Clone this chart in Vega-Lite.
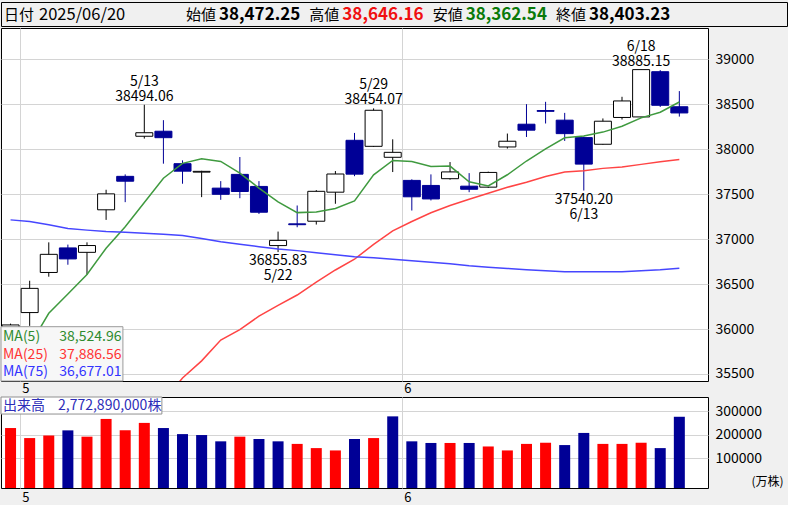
{
  "$schema": "https://vega.github.io/schema/vega-lite/v6.json",
  "background": "#f0f0f0",
  "padding": {"top": 1, "left": 0, "right": 0, "bottom": 0},
  "spacing": 0,
  "config": {"font": "Noto Sans CJK JP", "view": {"stroke": null}},
  "datasets": {
    "header": [
      {"k": "日付", "v": "2025/06/20"},
      {"k": "始値", "v": "38,472.25"},
      {"k": "高値", "v": "38,646.16"},
      {"k": "安値", "v": "38,362.54"},
      {"k": "終値", "v": "38,403.23"}
    ],
    "malegend": [
      {"n": "MA(5)", "v": "38,524.96"},
      {"n": "MA(25)", "v": "37,886.56"},
      {"n": "MA(75)", "v": "36,677.01"}
    ],
    "notes": [
      {"d": "2025-05-13", "p": 38494.06, "t": "5/13\n38494.06", "side": "hi"},
      {"d": "2025-05-29", "p": 38454.07, "t": "5/29\n38454.07", "side": "hi"},
      {"d": "2025-06-18", "p": 38885.15, "t": "6/18\n38885.15", "side": "hi"},
      {"d": "2025-05-22", "p": 36855.83, "t": "36855.83\n5/22", "side": "lo"},
      {"d": "2025-06-13", "p": 37540.20, "t": "37540.20\n6/13", "side": "lo"}
    ],
    "ohlc": [
      {"d":"2025-04-30","o":35900,"h":36060,"l":35780,"c":36045.38,"vol":229000,"chg":"up","ma5":35499.8,"ma25":null,"ma75":37214},
      {"d":"2025-05-01","o":36183,"h":36537,"l":36035,"c":36452.30,"vol":186000,"chg":"up","ma5":35816.5,"ma25":null,"ma75":37195},
      {"d":"2025-05-02","o":36629,"h":36964,"l":36582,"c":36830.69,"vol":197000,"chg":"up","ma5":36174.8,"ma25":null,"ma75":37160},
      {"d":"2025-05-07","o":36902,"h":36939,"l":36715,"c":36779.66,"vol":219000,"chg":"down","ma5":36389.6,"ma25":null,"ma75":37117},
      {"d":"2025-05-08","o":36853,"h":36964,"l":36604,"c":36928.63,"vol":192000,"chg":"up","ma5":36607.3,"ma25":null,"ma75":37100},
      {"d":"2025-05-09","o":37326,"h":37549,"l":37214,"c":37503.33,"vol":268000,"chg":"up","ma5":36898.9,"ma25":null,"ma75":37085},
      {"d":"2025-05-12","o":37698,"h":37720,"l":37411,"c":37644.26,"vol":219000,"chg":"up","ma5":37137.3,"ma25":null,"ma75":37075},
      {"d":"2025-05-13","o":38144,"h":38494.06,"l":38118,"c":38183.26,"vol":251000,"chg":"up","ma5":37407.8,"ma25":null,"ma75":37065},
      {"d":"2025-05-14","o":38200,"h":38323,"l":37839,"c":38128.13,"vol":229000,"chg":"down","ma5":37677.5,"ma25":35191.4,"ma75":37055},
      {"d":"2025-05-15","o":37839,"h":37876,"l":37616,"c":37755.51,"vol":203000,"chg":"down","ma5":37842.9,"ma25":35456.2,"ma75":37039},
      {"d":"2025-05-16","o":37745,"h":37760,"l":37467,"c":37753.72,"vol":199000,"chg":"down","ma5":37893.0,"ma25":35645.8,"ma75":37006},
      {"d":"2025-05-19","o":37567,"h":37645,"l":37437,"c":37498.63,"vol":172000,"chg":"down","ma5":37863.9,"ma25":35877.2,"ma75":36972},
      {"d":"2025-05-20","o":37720,"h":37913,"l":37455,"c":37529.49,"vol":192000,"chg":"up","ma5":37733.1,"ma25":35994.0,"ma75":36944},
      {"d":"2025-05-21","o":37586,"h":37645,"l":37280,"c":37298.98,"vol":182000,"chg":"down","ma5":37567.3,"ma25":36142.6,"ma75":36916},
      {"d":"2025-05-22","o":36928,"h":37084,"l":36855.83,"c":36985.87,"vol":172000,"chg":"down","ma5":37413.3,"ma25":36262.7,"ma75":36891},
      {"d":"2025-05-23","o":37170,"h":37374,"l":37132,"c":37160.47,"vol":161000,"chg":"up","ma5":37294.7,"ma25":36378.4,"ma75":36872},
      {"d":"2025-05-26","o":37199,"h":37545,"l":37162,"c":37531.53,"vol":143000,"chg":"up","ma5":37301.3,"ma25":36522.9,"ma75":36849},
      {"d":"2025-05-27","o":37522,"h":37757,"l":37393,"c":37724.11,"vol":133000,"chg":"up","ma5":37340.2,"ma25":36656.7,"ma75":36827},
      {"d":"2025-05-28","o":38099,"h":38181,"l":37700,"c":37722.40,"vol":182000,"chg":"down","ma5":37424.9,"ma25":36776.4,"ma75":36805},
      {"d":"2025-05-29","o":38032,"h":38454.07,"l":38025,"c":38432.98,"vol":186000,"chg":"up","ma5":37714.3,"ma25":36942.5,"ma75":36794},
      {"d":"2025-05-30","o":37910,"h":38110,"l":37746,"c":37965.10,"vol":279000,"chg":"down","ma5":37875.2,"ma25":37092.3,"ma75":36777},
      {"d":"2025-06-02","o":37653,"h":37665,"l":37318,"c":37470.67,"vol":172000,"chg":"down","ma5":37863.1,"ma25":37196.4,"ma75":36760},
      {"d":"2025-06-03","o":37597,"h":37720,"l":37430,"c":37446.81,"vol":165000,"chg":"down","ma5":37807.6,"ma25":37292.7,"ma75":36743},
      {"d":"2025-06-04","o":37672,"h":37857,"l":37661,"c":37747.45,"vol":165000,"chg":"up","ma5":37812.6,"ma25":37374.4,"ma75":36727},
      {"d":"2025-06-05","o":37589,"h":37734,"l":37522,"c":37554.49,"vol":165000,"chg":"down","ma5":37636.9,"ma25":37443.0,"ma75":36704},
      {"d":"2025-06-06","o":37578,"h":37750,"l":37570,"c":37741.61,"vol":150000,"chg":"up","ma5":37592.2,"ma25":37510.8,"ma75":36688},
      {"d":"2025-06-09","o":38025,"h":38174,"l":38007,"c":38088.57,"vol":133000,"chg":"up","ma5":37715.8,"ma25":37576.3,"ma75":36674},
      {"d":"2025-06-10","o":38278,"h":38501,"l":38136,"c":38211.51,"vol":161000,"chg":"up","ma5":37868.7,"ma25":37631.5,"ma75":36660},
      {"d":"2025-06-11","o":38430,"h":38527,"l":38286,"c":38421.19,"vol":166000,"chg":"up","ma5":38003.5,"ma25":37697.1,"ma75":36648},
      {"d":"2025-06-12","o":38323,"h":38404,"l":38092,"c":38173.09,"vol":156000,"chg":"down","ma5":38127.2,"ma25":37746.9,"ma75":36637},
      {"d":"2025-06-13","o":38129,"h":38140,"l":37540.20,"c":37834.25,"vol":208000,"chg":"down","ma5":38145.7,"ma25":37760.2,"ma75":36637},
      {"d":"2025-06-16","o":38055,"h":38342,"l":38050,"c":38311.33,"vol":161000,"chg":"up","ma5":38190.3,"ma25":37786.8,"ma75":36637},
      {"d":"2025-06-17","o":38353,"h":38583,"l":38330,"c":38536.74,"vol":161000,"chg":"up","ma5":38255.3,"ma25":37801.0,"ma75":36637},
      {"d":"2025-06-18","o":38359,"h":38885.15,"l":38350,"c":38885.15,"vol":166000,"chg":"up","ma5":38348.1,"ma25":37831.3,"ma75":36648},
      {"d":"2025-06-19","o":38862,"h":38880,"l":38470,"c":38488.34,"vol":143000,"chg":"down","ma5":38411.2,"ma25":37860.6,"ma75":36660},
      {"d":"2025-06-20","o":38472.25,"h":38646.16,"l":38362.54,"c":38403.23,"vol":277289,"chg":"down","ma5":38524.96,"ma25":37886.56,"ma75":36677.01}
    ]
  },
  "vconcat": [
    {
      "width": 786,
      "height": 24,
      "view": {"stroke": "#000000", "strokeWidth": 1, "fill": null},
      "data": {"name": "header"},
      "resolve": {"scale": {"x": "independent", "color": "independent"}},
      "layer": [
        {
          "transform": [{"filter": "datum.k === '日付'"}],
          "mark": {"type": "text", "align": "left", "baseline": "middle", "fontSize": 15, "color": "#000000", "dy": 1},
          "encoding": {
            "x": {"field": "k", "type": "nominal", "scale": {"type": "point", "domain": ["日付"], "range": [3, 3], "padding": 0}, "axis": null},
            "text": {"field": "k"}
          }
        },
        {
          "transform": [{"filter": "datum.k === '日付'"}],
          "mark": {"type": "text", "align": "left", "baseline": "middle", "fontSize": 16.5, "color": "#000000", "dx": 35, "dy": 1},
          "encoding": {
            "x": {"field": "k", "type": "nominal", "scale": {"type": "point", "domain": ["日付"], "range": [3, 3], "padding": 0}, "axis": null},
            "text": {"field": "v"}
          }
        },
        {
          "transform": [{"filter": "datum.k !== '日付'"}],
          "mark": {"type": "text", "align": "left", "baseline": "middle", "fontSize": 15, "color": "#000000", "dy": 1},
          "encoding": {
            "x": {"field": "k", "type": "nominal", "scale": {"type": "point", "domain": ["始値", "高値", "安値", "終値"], "range": [185, 555], "padding": 0}, "axis": null},
            "text": {"field": "k"}
          }
        },
        {
          "transform": [{"filter": "datum.k !== '日付'"}],
          "mark": {"type": "text", "align": "left", "baseline": "middle", "fontSize": 17, "fontWeight": "bold", "dx": 33, "dy": 1},
          "encoding": {
            "x": {"field": "k", "type": "nominal", "scale": {"type": "point", "domain": ["始値", "高値", "安値", "終値"], "range": [185, 555], "padding": 0}, "axis": null},
            "text": {"field": "v"},
            "color": {"field": "k", "type": "nominal", "scale": {"domain": ["始値", "高値", "安値", "終値"], "range": ["#000000", "#f01010", "#0a7a0a", "#000000"]}, "legend": null}
          }
        }
      ]
    },
    {
      "width": 707,
      "height": 353,
      "view": {"fill": "#ffffff", "stroke": "#000000", "strokeWidth": 1},
      "layer": [
        {
          "data": {"name": "ohlc"},
          "mark": {"type": "rule", "strokeWidth": 1},
          "encoding": {
            "x": {
              "field": "d", "type": "ordinal",
              "scale": {"type": "band", "paddingInner": 0, "paddingOuter": 0, "domain": ["2025-04-30","2025-05-01","2025-05-02","2025-05-07","2025-05-08","2025-05-09","2025-05-12","2025-05-13","2025-05-14","2025-05-15","2025-05-16","2025-05-19","2025-05-20","2025-05-21","2025-05-22","2025-05-23","2025-05-26","2025-05-27","2025-05-28","2025-05-29","2025-05-30","2025-06-02","2025-06-03","2025-06-04","2025-06-05","2025-06-06","2025-06-09","2025-06-10","2025-06-11","2025-06-12","2025-06-13","2025-06-16","2025-06-17","2025-06-18","2025-06-19","2025-06-20","2025-06-23"]},
              "axis": {"values": ["2025-05-01", "2025-06-02"], "bandPosition": 0, "labelExpr": "toNumber(slice(datum.value, 5, 7))", "labelAlign": "left", "labelBaseline": "top", "labelOffset": -7.5, "labelPadding": 1, "labelAngle": 0, "labelFontSize": 13, "labelColor": "#000000", "ticks": false, "domain": false, "grid": true, "gridColor": "#d4d4d4", "gridWidth": 1, "title": null, "minExtent": 14, "maxExtent": 14}
            },
            "y": {"field": "l", "type": "quantitative", "scale": {"domain": [35422, 39348], "nice": false, "zero": false},
              "axis": {"orient": "right", "values": [35500, 36000, 36500, 37000, 37500, 38000, 38500, 39000], "ticks": false, "domain": false, "labelPadding": 7, "labelFontSize": 14, "labelColor": "#000000", "labelBaseline": "middle", "labelFlush": false, "labelOverlap": false, "format": "d", "grid": true, "gridColor": "#d4d4d4", "gridWidth": 1, "title": null}},
            "y2": {"field": "h"},
            "color": {"condition": {"test": "datum.c >= datum.o", "value": "#000000"}, "value": "#000096"}
          }
        },
        {
          "data": {"name": "ohlc"},
          "mark": {"type": "bar", "size": 17, "strokeWidth": 1},
          "encoding": {
            "x": {"field": "d", "type": "ordinal"},
            "y": {"field": "o", "type": "quantitative"},
            "y2": {"field": "c"},
            "fill": {"condition": {"test": "datum.c >= datum.o", "value": "#ffffff"}, "value": "#000096"},
            "stroke": {"condition": {"test": "datum.c >= datum.o", "value": "#000000"}, "value": "#000096"}
          }
        },
        {
          "data": {"name": "ohlc"},
          "mark": {"type": "line", "color": "#3f9a3f", "strokeWidth": 1.5, "clip": true},
          "encoding": {"x": {"field": "d", "type": "ordinal"}, "y": {"field": "ma5", "type": "quantitative"}}
        },
        {
          "data": {"name": "ohlc"},
          "mark": {"type": "line", "color": "#ff4444", "strokeWidth": 1.5, "clip": true},
          "encoding": {"x": {"field": "d", "type": "ordinal"}, "y": {"field": "ma25", "type": "quantitative"}}
        },
        {
          "data": {"name": "ohlc"},
          "mark": {"type": "line", "color": "#4646ff", "strokeWidth": 1.5, "clip": true},
          "encoding": {"x": {"field": "d", "type": "ordinal"}, "y": {"field": "ma75", "type": "quantitative"}}
        },
        {
          "data": {"values": [{}]},
          "mark": {"type": "rect", "fill": "#f7f7f7", "stroke": "#9a9a9a", "strokeWidth": 1},
          "encoding": {
            "x": {"datum": "2025-04-30", "type": "ordinal", "bandPosition": 0},
            "x2": {"datum": "2025-05-12", "bandPosition": 0.38},
            "y": {"datum": 36026, "type": "quantitative"},
            "y2": {"datum": 35422}
          }
        },
        {
          "data": {"name": "notes"},
          "transform": [{"filter": "datum.side === 'hi'"}],
          "mark": {"type": "text", "align": "center", "baseline": "bottom", "fontSize": 14, "lineBreak": "\n", "lineHeight": 15, "dy": -16, "color": "#000000"},
          "encoding": {"x": {"field": "d", "type": "ordinal"}, "y": {"field": "p", "type": "quantitative"}, "text": {"field": "t"}}
        },
        {
          "data": {"name": "notes"},
          "transform": [{"filter": "datum.side === 'lo'"}],
          "mark": {"type": "text", "align": "center", "baseline": "top", "fontSize": 14, "lineBreak": "\n", "lineHeight": 15, "dy": 2, "color": "#000000"},
          "encoding": {"x": {"field": "d", "type": "ordinal"}, "y": {"field": "p", "type": "quantitative"}, "text": {"field": "t"}}
        },
        {
          "data": {"name": "malegend"},
          "transform": [{"filter": "datum.n === 'MA(5)'"}],
          "mark": {"type": "text", "align": "left", "baseline": "middle", "fontSize": 14, "dx": 2, "color": "#2e8b2e"},
          "encoding": {"x": {"datum": "2025-04-30", "type": "ordinal", "bandPosition": 0}, "y": {"datum": 35911, "type": "quantitative"}, "text": {"field": "n"}}
        },
        {
          "data": {"name": "malegend"},
          "transform": [{"filter": "datum.n === 'MA(5)'"}],
          "mark": {"type": "text", "align": "left", "baseline": "middle", "fontSize": 14, "dx": 1, "color": "#2e8b2e"},
          "encoding": {"x": {"datum": "2025-05-07", "type": "ordinal", "bandPosition": 0}, "y": {"datum": 35911, "type": "quantitative"}, "text": {"field": "v"}}
        },
        {
          "data": {"name": "malegend"},
          "transform": [{"filter": "datum.n === 'MA(25)'"}],
          "mark": {"type": "text", "align": "left", "baseline": "middle", "fontSize": 14, "dx": 2, "color": "#ff3333"},
          "encoding": {"x": {"datum": "2025-04-30", "type": "ordinal", "bandPosition": 0}, "y": {"datum": 35711, "type": "quantitative"}, "text": {"field": "n"}}
        },
        {
          "data": {"name": "malegend"},
          "transform": [{"filter": "datum.n === 'MA(25)'"}],
          "mark": {"type": "text", "align": "left", "baseline": "middle", "fontSize": 14, "dx": 1, "color": "#ff3333"},
          "encoding": {"x": {"datum": "2025-05-07", "type": "ordinal", "bandPosition": 0}, "y": {"datum": 35711, "type": "quantitative"}, "text": {"field": "v"}}
        },
        {
          "data": {"name": "malegend"},
          "transform": [{"filter": "datum.n === 'MA(75)'"}],
          "mark": {"type": "text", "align": "left", "baseline": "middle", "fontSize": 14, "dx": 2, "color": "#3333ff"},
          "encoding": {"x": {"datum": "2025-04-30", "type": "ordinal", "bandPosition": 0}, "y": {"datum": 35519, "type": "quantitative"}, "text": {"field": "n"}}
        },
        {
          "data": {"name": "malegend"},
          "transform": [{"filter": "datum.n === 'MA(75)'"}],
          "mark": {"type": "text", "align": "left", "baseline": "middle", "fontSize": 14, "dx": 1, "color": "#3333ff"},
          "encoding": {"x": {"datum": "2025-05-07", "type": "ordinal", "bandPosition": 0}, "y": {"datum": 35519, "type": "quantitative"}, "text": {"field": "v"}}
        }
      ]
    },
    {
      "width": 707,
      "height": 91,
      "view": {"fill": "#ffffff", "stroke": "#000000", "strokeWidth": 1},
      "layer": [
        {
          "data": {"name": "ohlc"},
          "mark": {"type": "bar", "size": 11},
          "encoding": {
            "x": {"field": "d", "type": "ordinal",
              "scale": {"type": "band", "paddingInner": 0, "paddingOuter": 0, "domain": ["2025-04-30","2025-05-01","2025-05-02","2025-05-07","2025-05-08","2025-05-09","2025-05-12","2025-05-13","2025-05-14","2025-05-15","2025-05-16","2025-05-19","2025-05-20","2025-05-21","2025-05-22","2025-05-23","2025-05-26","2025-05-27","2025-05-28","2025-05-29","2025-05-30","2025-06-02","2025-06-03","2025-06-04","2025-06-05","2025-06-06","2025-06-09","2025-06-10","2025-06-11","2025-06-12","2025-06-13","2025-06-16","2025-06-17","2025-06-18","2025-06-19","2025-06-20","2025-06-23"]},
              "axis": {"values": ["2025-05-01", "2025-06-02"], "bandPosition": 0, "labelExpr": "toNumber(slice(datum.value, 5, 7))", "labelAlign": "left", "labelBaseline": "top", "labelOffset": -7.5, "labelPadding": 3, "labelAngle": 0, "labelFontSize": 13, "labelColor": "#000000", "ticks": false, "domain": false, "grid": true, "gridColor": "#d4d4d4", "gridWidth": 1, "title": null, "minExtent": 15, "maxExtent": 15}},
            "y": {"field": "vol", "type": "quantitative", "scale": {"domain": [-28000, 362000], "nice": false, "zero": false},
              "axis": {"orient": "right", "values": [100000, 200000, 300000], "ticks": false, "domain": false, "labelPadding": 7, "labelFontSize": 14, "labelColor": "#000000", "labelBaseline": "middle", "labelFlush": false, "labelOverlap": false, "format": "d", "grid": true, "gridColor": "#d4d4d4", "gridWidth": 1, "title": "(万株)", "titleAngle": 0, "titleX": 75, "titleY": 84, "titleAlign": "right", "titleBaseline": "middle", "titleFontSize": 12, "titleFontWeight": "normal", "titleColor": "#000000"}},
            "y2": {"datum": -28000},
            "color": {"field": "chg", "type": "nominal", "scale": {"domain": ["up", "down"], "range": ["#ff0000", "#000096"]}, "legend": null}
          }
        },
        {
          "data": {"values": [{}]},
          "mark": {"type": "rect", "fill": "#ffffff", "stroke": "#909090", "strokeWidth": 1},
          "encoding": {
            "x": {"datum": "2025-04-30", "type": "ordinal", "bandPosition": 0},
            "x2": {"datum": "2025-05-14", "bandPosition": 0.42},
            "y": {"datum": 362000, "type": "quantitative"},
            "y2": {"datum": 289000}
          }
        },
        {
          "data": {"values": [{"label": "出来高", "total": "2,772,890,000株"}]},
          "mark": {"type": "text", "align": "left", "baseline": "middle", "fontSize": 14, "dx": 2, "color": "#2d2db9"},
          "encoding": {
            "x": {"datum": "2025-04-30", "type": "ordinal", "bandPosition": 0},
            "y": {"datum": 325500, "type": "quantitative"},
            "text": {"field": "label"}
          }
        },
        {
          "data": {"values": [{"label": "出来高", "total": "2,772,890,000株"}]},
          "mark": {"type": "text", "align": "left", "baseline": "middle", "fontSize": 14, "dx": 57, "color": "#2d2db9"},
          "encoding": {
            "x": {"datum": "2025-04-30", "type": "ordinal", "bandPosition": 0},
            "y": {"datum": 325500, "type": "quantitative"},
            "text": {"field": "total"}
          }
        }
      ]
    }
  ]
}
